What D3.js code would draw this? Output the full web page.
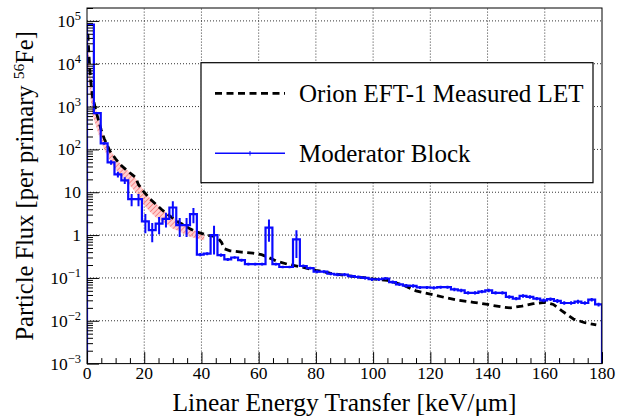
<!DOCTYPE html>
<html>
<head>
<meta charset="utf-8">
<script src="https://cdn.jsdelivr.net/npm/d3@7"></script>
<style>
  html, body { margin: 0; padding: 0; background: #fff; }
  #chart text, #chart tspan { font-family: "Liberation Serif" !important; }
</style>
</head>
<body>
<svg id="chart" width="622" height="418" style="display:block;font-family:'Liberation Serif'"></svg>
<script>
// ---------------- DATA ----------------
// Orion EFT-1 measured LET spectrum (black dashed), [LET keV/um, flux]
const measuredX = [0.3, 0.7, 1, 1.4, 2, 2.5, 3, 4, 5, 6, 8, 10, 12, 14, 16, 17, 18, 20, 22, 24, 26, 28, 30, 32, 34, 36, 38, 40, 42, 44, 46, 47, 48, 50, 54, 58, 61, 63, 66, 70, 75, 80, 85, 90, 95, 100, 105, 110, 115, 120, 125, 130, 135, 140, 145, 148, 152, 156, 160, 163, 166, 170, 174, 178];
const measuredY = [5e4, 1.5e4, 7000, 3500, 1600, 1200, 850, 480, 280, 180, 92, 60, 42, 32, 25, 22, 15, 10, 7, 5.3, 4.0, 3.1, 2.5, 2.0, 1.7, 1.4, 1.2, 1.1, 1.0, 0.95, 0.82, 0.68, 0.48, 0.43, 0.4, 0.38, 0.35, 0.31, 0.25, 0.21, 0.18, 0.15, 0.13, 0.115, 0.105, 0.095, 0.088, 0.07, 0.05, 0.042, 0.035, 0.03, 0.027, 0.024, 0.021, 0.02, 0.022, 0.025, 0.027, 0.024, 0.017, 0.011, 0.009, 0.008];

// Uncertainty band of the measurement (red hatched)
const bandX  = [0.3, 1, 2, 3, 4, 5, 6, 8, 10, 12, 14, 16, 18, 20, 22, 24, 26, 28, 30, 32, 34, 36, 38, 40, 41];
const bandHi = [5e4, 6000, 1700, 950, 520, 300, 190, 100, 63, 44, 33, 26, 17, 10.5, 7.3, 5.5, 4.2, 3.2, 2.6, 2.1, 1.75, 1.45, 1.25, 1.12, 1.08];
const bandLo = [1.2e4, 2000, 600, 380, 230, 150, 100, 55, 34, 24, 17, 12, 8, 5, 3.5, 2.6, 2.2, 1.8, 1.4, 1.25, 1.05, 0.92, 0.84, 0.78, 0.76];

// Moderator Block simulation histogram: 75 bins of 2.4 keV/um from 0 to 180
const binWidth = 2.4;
const moderatorY = [
  8.2e4, 700, 138, 50, 26, 19, 6.9, 6.9, 2.1, 1.3,
  1.85, 2.4, 4.4, 1.7, 1.7, 3.1, 0.35, 0.37, 1.0, 0.34,
  0.27, 0.30, 0.26, 0.21, 0.21, 0.21, 1.5, 0.21, 0.18, 0.18,
  0.79, 0.19, 0.17, 0.14, 0.14, 0.125, 0.12, 0.12, 0.11, 0.105,
  0.10, 0.093, 0.093, 0.097, 0.08, 0.071, 0.066, 0.065, 0.06, 0.06,
  0.059, 0.061, 0.061, 0.054, 0.051, 0.045, 0.045, 0.048, 0.051, 0.045,
  0.045, 0.036, 0.033, 0.038, 0.036, 0.033, 0.030, 0.032, 0.029, 0.026,
  0.026, 0.028, 0.026, 0.031, 0.024
];
const moderatorErr = [
  300, 25, 10, 6, 4, 3.5, 2.2, 2.2, 1.0, 0.62,
  0.8, 0.9, 1.8, 0.8, 0.8, 1.2, 0.03, 0.03, 0.65, 0.03,
  0.02, 0.02, 0.02, 0.015, 0.015, 0.015, 0.8, 0.015, 0.012, 0.012,
  0.5, 0.015, 0.013, 0.011, 0.011, 0.01, 0.01, 0.01, 0.009, 0.009,
  0.008, 0.008, 0.008, 0.008, 0.007, 0.006, 0.006, 0.006, 0.005, 0.005,
  0.005, 0.005, 0.005, 0.005, 0.005, 0.004, 0.004, 0.004, 0.005, 0.004,
  0.004, 0.0035, 0.003, 0.0035, 0.0035, 0.003, 0.003, 0.003, 0.003, 0.0025,
  0.0025, 0.003, 0.0025, 0.003, 0.0025
];

// Axes
const xTickValues = [0, 20, 40, 60, 80, 100, 120, 140, 160, 180];
const xTickLabels = ["0", "20", "40", "60", "80", "100", "120", "140", "160", "180"];
const xMinorTicks = d3.range(5, 180, 5).filter(v => v % 20 !== 0);
const yTickValues = [1e-3, 1e-2, 1e-1, 1, 10, 1e2, 1e3, 1e4, 1e5];
const yTickBase   = ["10", "10", "10", "1", "10", "10", "10", "10", "10"];
const yTickExp    = ["\u22123", "\u22122", "\u22121", "", "", "2", "3", "4", "5"];
const xTitle = "Linear Energy Transfer [keV/\u03BCm]";
const yTitleParts = ["Particle Flux [per primary ", "56", "Fe]"];
const legendLabels = ["Orion EFT-1 Measured LET", "Moderator Block"];

// ---------------- CHART ----------------
const FONT = "Liberation Serif";
function serif(sel) { return sel.attr("font-family", FONT).style("font-family", "'" + FONT + "'"); }
const svg = d3.select("#chart");
const X0 = 87, X1 = 602, Y0 = 363.6, Y1 = 8;
const x = d3.scaleLinear().domain([0, 180]).range([X0, X1]);
const y = d3.scaleLog().domain([1e-3, 2e5]).range([Y0, Y1]);

const defs = svg.append("defs");
const pat = defs.append("pattern").attr("id", "hatch").attr("patternUnits", "userSpaceOnUse")
  .attr("width", 3.5).attr("height", 3.5).attr("patternTransform", "rotate(45)");
pat.append("rect").attr("width", 3.5).attr("height", 3.5).attr("fill", "rgba(255,175,175,0.6)");
pat.append("line").attr("x1", 0).attr("y1", 0).attr("x2", 0).attr("y2", 3.5)
  .attr("stroke", "rgba(245,100,100,0.8)").attr("stroke-width", 1.6);
const clip = defs.append("clipPath").attr("id", "frameclip");
clip.append("rect").attr("x", X0).attr("y", Y1).attr("width", X1 - X0).attr("height", Y0 - Y1);

// grid
const grid = svg.append("g").attr("stroke", "#000").attr("stroke-width", 0.8).attr("stroke-dasharray", "1,2");
grid.selectAll("line.gx").data(xTickValues.filter(v => v > 0 && v < 180)).join("line")
  .attr("x1", d => x(d)).attr("x2", d => x(d)).attr("y1", Y0).attr("y2", Y1);
grid.selectAll("line.gy").data(yTickValues.filter(v => v > 1e-3)).join("line")
  .attr("y1", d => y(d)).attr("y2", d => y(d)).attr("x1", X0).attr("x2", X1);

const plot = svg.append("g").attr("clip-path", "url(#frameclip)");

// band
const bandData = bandX.map((v, i) => ({ x: v, lo: bandLo[i], hi: bandHi[i] }));
plot.append("path").datum(bandData)
  .attr("d", d3.area().x(d => x(d.x)).y0(d => y(d.lo)).y1(d => y(d.hi)))
  .attr("fill", "url(#hatch)").attr("stroke", "none");

// measured dashed line
const measData = measuredX.map((v, i) => ({ x: v, y: measuredY[i] }));
plot.append("path").datum(measData)
  .attr("d", d3.line().x(d => x(d.x)).y(d => y(d.y)))
  .attr("fill", "none").attr("stroke", "#000").attr("stroke-width", 2.8)
  .attr("stroke-dasharray", "7,4.5");

// moderator histogram
const bins = moderatorY.map((v, i) => ({ x0: i * binWidth, x1: (i + 1) * binWidth, y: v, e: moderatorErr[i] }));
let pts = [[x(0), Y0]];
bins.forEach(b => { pts.push([x(b.x0), y(b.y)]); pts.push([x(b.x1), y(b.y)]); });
pts.push([x(180), Y0]);
plot.append("path").attr("d", d3.line()(pts))
  .attr("fill", "none").attr("stroke", "#0a0aff").attr("stroke-width", 2.2);
plot.append("g").selectAll("line").data(bins).join("line")
  .attr("x1", d => x((d.x0 + d.x1) / 2)).attr("x2", d => x((d.x0 + d.x1) / 2))
  .attr("y1", d => y(d.y + d.e)).attr("y2", d => y(Math.max(d.y - d.e, 1.1e-3)))
  .attr("stroke", "#0a0aff").attr("stroke-width", 2);

// axes ticks
const axX = svg.append("g").attr("transform", `translate(0,${Y0})`);
axX.call(d3.axisBottom(x).tickValues(xTickValues).tickSize(-11.5).tickFormat(""));
axX.append("g").call(d3.axisBottom(x).tickValues(xMinorTicks).tickSize(-5.5).tickFormat(""));
axX.selectAll(".domain").remove();
axX.selectAll("text").remove();
axX.selectAll("line").attr("stroke", "#000").attr("stroke-width", 1);

const yMinor = [];
for (let e = -3; e <= 5; e++) for (let m = 2; m <= 9; m++) { const v = m * Math.pow(10, e); if (v <= 2e5) yMinor.push(v); }
const axY = svg.append("g").attr("transform", `translate(${X0},0)`);
axY.call(d3.axisLeft(y).tickValues(yTickValues).tickSize(-12).tickFormat(""));
axY.append("g").call(d3.axisLeft(y).tickValues(yMinor).tickSize(-6).tickFormat(""));
axY.selectAll(".domain").remove();
axY.selectAll("text").remove();
axY.selectAll("line").attr("stroke", "#000").attr("stroke-width", 1);

// frame
svg.append("rect").attr("x", X0).attr("y", Y1).attr("width", X1 - X0).attr("height", Y0 - Y1)
  .attr("fill", "none").attr("stroke", "#000").attr("stroke-width", 1);

// tick labels
svg.append("g").selectAll("text").data(xTickValues).join("text").call(serif)
  .attr("x", d => x(d)).attr("y", 379).attr("text-anchor", "middle").attr("font-size", 17.5)
  .text((d, i) => xTickLabels[i]);

const yl = svg.append("g").selectAll("text").data(yTickValues).join("text").call(serif)
  .attr("x", 81).attr("y", d => y(d) + 6).attr("text-anchor", "end").attr("font-size", 17.5);
yl.append("tspan").text((d, i) => yTickBase[i]);
yl.append("tspan").attr("font-size", 12.5).attr("dy", -7).text((d, i) => yTickExp[i]);

// titles
svg.append("text").call(serif).attr("x", (X0 + X1) / 2).attr("y", 411).attr("text-anchor", "middle")
  .attr("font-size", 25.5).text(xTitle);
const yt = svg.append("text").call(serif).attr("transform", `translate(33,${(Y0 + Y1) / 2}) rotate(-90)`)
  .attr("text-anchor", "middle").attr("font-size", 24.5);
yt.append("tspan").text(yTitleParts[0]);
yt.append("tspan").attr("font-size", 15.5).attr("dy", -9).text(yTitleParts[1]);
yt.append("tspan").attr("dy", 9).text(yTitleParts[2]);

// legend
const lg = svg.append("g");
lg.append("rect").attr("x", 201).attr("y", 62.7).attr("width", 392).attr("height", 120)
  .attr("fill", "#fff").attr("stroke", "#000").attr("stroke-width", 1.2);
lg.append("line").attr("x1", 215).attr("x2", 285).attr("y1", 93.3).attr("y2", 93.3)
  .attr("stroke", "#000").attr("stroke-width", 2.8).attr("stroke-dasharray", "7,4.5");
lg.append("text").call(serif).attr("x", 299).attr("y", 101.7).attr("font-size", 25).text(legendLabels[0]);
lg.append("line").attr("x1", 215).attr("x2", 285).attr("y1", 153.3).attr("y2", 153.3)
  .attr("stroke", "#0a0aff").attr("stroke-width", 1.5);
lg.append("line").attr("x1", 250).attr("x2", 250).attr("y1", 151).attr("y2", 155.6)
  .attr("stroke", "#0a0aff").attr("stroke-width", 1);
lg.append("text").call(serif).attr("x", 299).attr("y", 161.7).attr("font-size", 25).text(legendLabels[1]);
</script>
</body>
</html>
